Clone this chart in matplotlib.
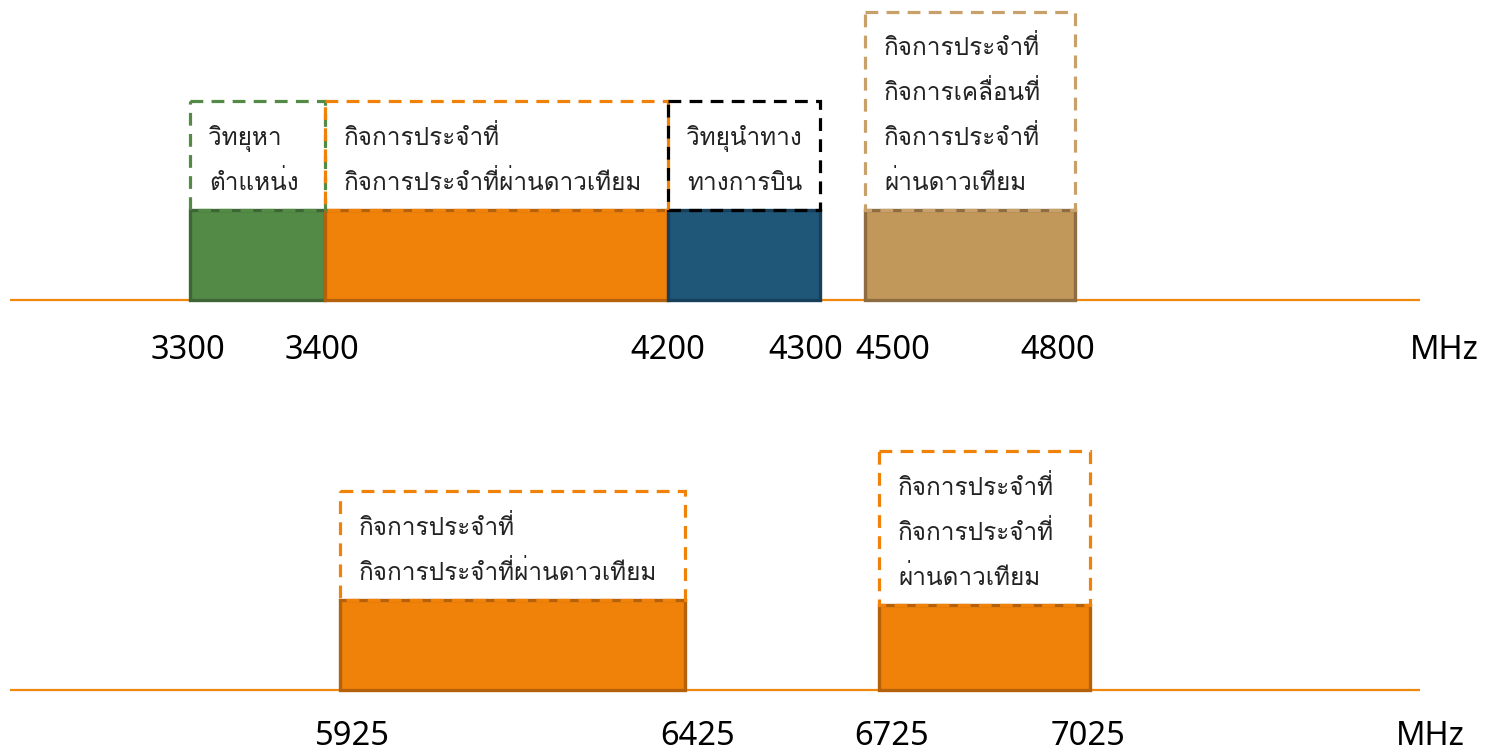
import numpy as np
import matplotlib
matplotlib.use("Agg")
import matplotlib.pyplot as plt
from matplotlib.patches import Rectangle

# ---------------- data ----------------
top_bands_lo = [3300, 3400, 4200, 4500]
top_bands_hi = [3400, 4200, 4300, 4800]
top_bands_text = [
    ["วิทยุหา", "ตำแหน่ง"],
    ["กิจการประจำที่", "กิจการประจำที่ผ่านดาวเทียม"],
    ["วิทยุนำทาง", "ทางการบิน"],
    ["กิจการประจำที่", "กิจการเคลื่อนที่", "กิจการประจำที่", "ผ่านดาวเทียม"],
]
top_ticks = [3300, 3400, 4200, 4300, 4500, 4800]

bot_bands_lo = [5925, 6725]
bot_bands_hi = [6425, 7025]
bot_bands_text = [
    ["กิจการประจำที่", "กิจการประจำที่ผ่านดาวเทียม"],
    ["กิจการประจำที่", "กิจการประจำที่", "ผ่านดาวเทียม"],
]
bot_ticks = [5925, 6425, 6725, 7025]
unit_label = "MHz"

# ---------------- style / layout ----------------
W, H = 1491, 754
top_fill = ["#538A45", "#F0820A", "#1F5779", "#C1975A"]
top_edge = ["#3D6535", "#B5600A", "#173F5A", "#8E6D42"]
top_dash = ["#538A45", "#F0820A", "#000000", "#C8A06A"]
bot_fill = ["#F0820A", "#F0820A"]
bot_edge = ["#B5600A", "#B5600A"]
bot_dash = ["#F0820A", "#F0820A"]
line_color = "#F0870F"
text_color = "#222222"

# schematic (non-linear) frequency -> pixel mapping
top_anchor_f = [3300, 3400, 4200, 4300, 4500, 4800]
top_anchor_p = [190, 325, 668, 820, 865, 1075]
bot_anchor_f = [5925, 6425, 6725, 7025]
bot_anchor_p = [340, 685, 879, 1090]

top_base, top_fill_top = 300, 210
top_box_top = [101, 101, 101, 12]
top_text_base = [[145, 190], [145, 190], [145, 190], [55, 100, 145, 190]]
bot_base = 690
bot_fill_top = [600, 605]
bot_box_top = [491, 451]
bot_text_base = [[535, 580], [495, 540, 585]]
text_dx = 19
top_tick_dx = [-2, -3, 0, -14, 28, -17]
bot_tick_dx = [12, 13, 13, -2]
top_tick_base, bot_tick_base = 359, 745

thai_family = ["Loma", "Noto Sans Thai", "DejaVu Sans"]
num_family = ["Noto Sans", "DejaVu Sans"]
plt.rcParams["font.family"] = thai_family


def make_scale(fa, pa):
    fa = np.asarray(fa, float)
    pa = np.asarray(pa, float)
    s0 = (pa[1] - pa[0]) / (fa[1] - fa[0])
    s1 = (pa[-1] - pa[-2]) / (fa[-1] - fa[-2])

    def fwd(x):
        x = np.asarray(x, float)
        y = np.interp(x, fa, pa)
        y = np.where(x < fa[0], pa[0] + (x - fa[0]) * s0, y)
        y = np.where(x > fa[-1], pa[-1] + (x - fa[-1]) * s1, y)
        return y

    def inv(y):
        y = np.asarray(y, float)
        x = np.interp(y, pa, fa)
        x = np.where(y < pa[0], fa[0] + (y - pa[0]) / s0, x)
        x = np.where(y > pa[-1], fa[-1] + (y - pa[-1]) / s1, x)
        return x
    return fwd, inv


fig = plt.figure(figsize=(W / 100, H / 100), dpi=100)
fig.patch.set_facecolor("white")


def panel(lo, hi, texts, fill, edge, dash, fill_top, box_top, text_base, base,
          ticks, tick_dx, tick_base, fa, pa, line_x1, unit_x):
    ax = fig.add_axes([0, 0, 1, 1])
    ax.patch.set_alpha(0)
    fwd, inv = make_scale(fa, pa)
    ax.set_xscale("function", functions=(fwd, inv))
    ax.set_xlim(inv(0.0), inv(float(W)))
    ax.set_ylim(H, 0)
    ax.axis("off")
    ax.plot([inv(10.0), inv(float(line_x1))], [base, base], color=line_color, lw=1.6,
            solid_capstyle="butt", zorder=1)
    for i in range(len(lo)):
        ft = fill_top[i] if np.ndim(fill_top) else fill_top
        ax.add_patch(Rectangle((lo[i], ft), hi[i] - lo[i], base - ft,
                               facecolor=fill[i], edgecolor=edge[i], lw=2.4, zorder=2))
        ax.add_patch(Rectangle((lo[i], box_top[i]), hi[i] - lo[i], ft - box_top[i],
                               facecolor="none", edgecolor=dash[i], lw=2.3,
                               linestyle=(0, (4, 2.6)), zorder=3))
        for line, yb in zip(texts[i], text_base[i]):
            ax.annotate(line, xy=(lo[i], yb), xytext=(text_dx, 0),
                        textcoords="offset pixels", ha="left", va="baseline",
                        fontsize=17.5, color=text_color, zorder=4)
    for t, dx in zip(ticks, tick_dx):
        ax.annotate(str(t), xy=(t, tick_base), xytext=(dx, 0), textcoords="offset pixels",
                    ha="center", va="baseline", fontsize=23.5, color="black",
                    family=num_family)
    ax.text(inv(float(unit_x)), tick_base, unit_label, ha="center", va="baseline",
            fontsize=23.5, color="black", family=num_family)
    return ax


panel(top_bands_lo, top_bands_hi, top_bands_text, top_fill, top_edge, top_dash,
      top_fill_top, top_box_top, top_text_base, top_base, top_ticks, top_tick_dx,
      top_tick_base, top_anchor_f, top_anchor_p, 1420, 1444)
panel(bot_bands_lo, bot_bands_hi, bot_bands_text, bot_fill, bot_edge, bot_dash,
      bot_fill_top, bot_box_top, bot_text_base, bot_base, bot_ticks, bot_tick_dx,
      bot_tick_base, bot_anchor_f, bot_anchor_p, 1420, 1430)

fig.savefig("out.png", dpi=100, facecolor="white")
